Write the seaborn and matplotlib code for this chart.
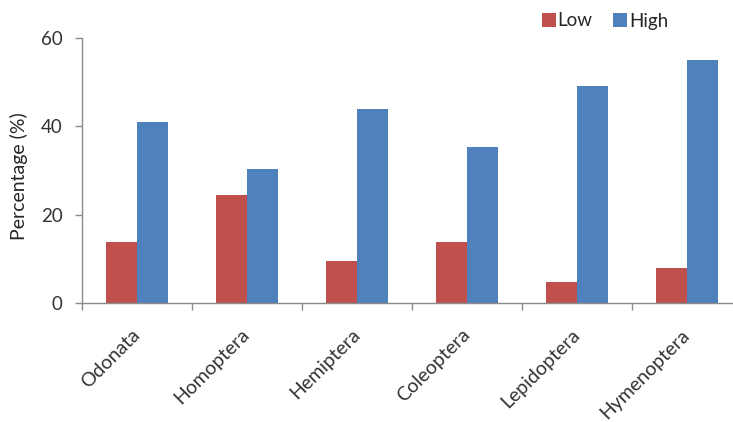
import matplotlib
matplotlib.use("Agg")
import matplotlib.pyplot as plt
from matplotlib.patches import Patch
import seaborn as sns
import pandas as pd
import numpy as np

orders = ["Odonata", "Homoptera", "Hemiptera", "Coleoptera", "Lepidoptera", "Hymenoptera"]
low = [13.7, 24.4, 9.4, 13.7, 4.8, 7.9]
high = [41.0, 30.3, 43.9, 35.4, 49.1, 55.0]
levels = ["Low", "High"]
yticks = [0, 20, 40, 60]

df = pd.DataFrame({
    "Order": orders * 2,
    "Level": [levels[0]] * len(orders) + [levels[1]] * len(orders),
    "Percentage": low + high,
})

sns.set_style("white")
plt.rcParams["font.family"] = ["Lato", "DejaVu Sans"]

fig = plt.figure(figsize=(7.33, 4.22), dpi=100)
ax = fig.add_axes([82 / 733, 119 / 422, 660 / 733, 265 / 422])

palette = {"Low": "#C0504D", "High": "#4F81BD"}
sns.barplot(data=df, x="Order", y="Percentage", hue="Level", order=orders,
            hue_order=levels, palette=palette, width=0.56, saturation=1,
            edgecolor="none", ax=ax, legend=False)

ax.set_xlim(-0.5, len(orders) - 0.5)
ax.set_ylim(0, 60)
ax.set_yticks(yticks)
ax.set_ylabel("Percentage (%)", fontsize=14, color="#262626")
ax.yaxis.set_label_coords(-0.082, 0.48)
ax.set_xlabel("")

axis_color = "#8c8c8c"
for side in ["top", "right"]:
    ax.spines[side].set_visible(False)
for side in ["left", "bottom"]:
    ax.spines[side].set_visible(True)
    ax.spines[side].set_color(axis_color)
    ax.spines[side].set_linewidth(1.0)

ax.tick_params(axis="y", which="major", left=True, length=5, width=1,
               color=axis_color, labelsize=13.5, labelcolor="#333333", pad=9)

# category separators as ticks below the axis
ax.set_xticks(np.arange(len(orders)))
ax.set_xticks(np.arange(-0.5, len(orders)), minor=True)
ax.tick_params(axis="x", which="major", bottom=False, length=0, pad=21)
ax.tick_params(axis="x", which="minor", bottom=True, length=5, width=1,
               color=axis_color)
ax.set_xticklabels(orders, rotation=45, ha="right", va="center",
                   rotation_mode="anchor", fontsize=14, color="#333333")

# legend in the upper right corner
handles = [Patch(facecolor=palette[l], edgecolor="none") for l in levels]
fig.legend(handles, levels, loc="center", bbox_to_anchor=(605 / 733, 1 - 21 / 422),
           ncol=2, frameon=False, fontsize=13.5, handlelength=0.75, handleheight=0.75,
           handletextpad=0.1, columnspacing=1.1, labelcolor="#262626")

fig.savefig("out.png", dpi=100)
